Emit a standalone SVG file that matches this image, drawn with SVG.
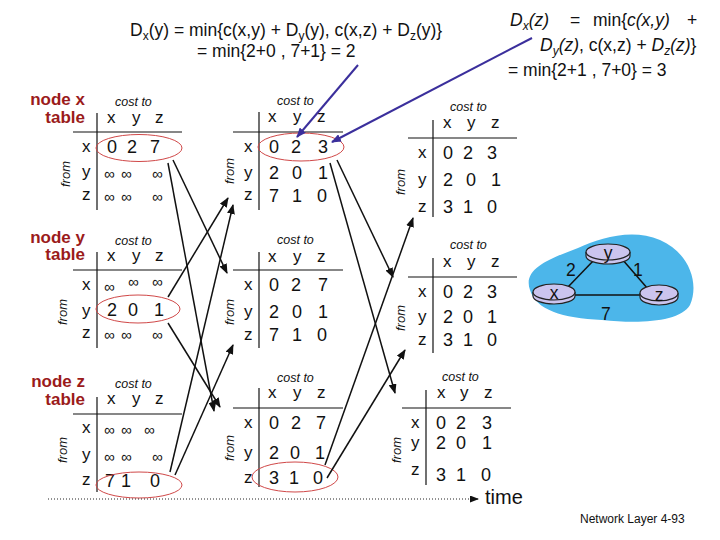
<svg xmlns="http://www.w3.org/2000/svg" width="720" height="540" viewBox="0 0 720 540">
<defs>
<style>
text{font-family:"Liberation Sans",Arial,sans-serif;fill:#111}
.nl{font-size:17px;font-weight:bold;fill:#9b1b1b;text-anchor:end}
.ct{font-size:12.5px;font-style:italic}
.hd{font-size:17px}
.rl{font-size:17px}
.v{font-size:18px}
.inf{font-size:15px}
.fr{font-size:13px;font-style:italic;text-anchor:middle}
.f{font-size:17.5px}
.it{font-style:italic}
.ln{stroke:#111;stroke-width:1.2;fill:none}
.ov{fill:none;stroke:#d04848;stroke-width:1}
.cn{stroke:#111;stroke-width:1.5;fill:none;marker-end:url(#ah)}
.bl{stroke:#3b2f9c;stroke-width:2;fill:none;marker-end:url(#bh)}
.rt{fill:#cbc4ee;stroke:#222;stroke-width:1.2}
.lk{stroke:#111;stroke-width:1.5}
</style>
<marker id="ah" markerWidth="10" markerHeight="8" refX="9" refY="4" orient="auto" markerUnits="userSpaceOnUse"><path d="M0,0 L10,4 L0,8 Z" fill="#111"/></marker>
<marker id="bh" markerWidth="10" markerHeight="8" refX="9" refY="4" orient="auto" markerUnits="userSpaceOnUse"><path d="M0,0 L10,4 L0,8 Z" fill="#3b2f9c"/></marker>
<marker id="th" markerWidth="9" markerHeight="7" refX="8" refY="3.5" orient="auto" markerUnits="userSpaceOnUse"><path d="M0,0 L9,3.5 L0,7 Z" fill="#111"/></marker>
</defs>

<!-- formulas -->
<g id="formula-left">
<text class="f" x="130" y="36">D<tspan font-size="12" dy="4">x</tspan><tspan dy="-4">(y) = min{c(x,y) + D</tspan><tspan font-size="12" dy="4">y</tspan><tspan dy="-4">(y), c(x,z) + D</tspan><tspan font-size="12" dy="4">z</tspan><tspan dy="-4">(y)}</tspan></text>
<text class="f" x="197" y="57">= min{2+0 , 7+1} = 2</text>
</g>
<g id="formula-right">
<text class="f it" x="510" y="26">D<tspan font-size="12" dy="4">x</tspan><tspan dy="-4">(z)</tspan></text>
<text class="f" x="570" y="26">=</text>
<text class="f" x="593" y="26">min{<tspan class="it">c(x,y)</tspan></text>
<text class="f" x="687" y="26">+</text>
<text class="f" x="540" y="51"><tspan class="it">D</tspan><tspan class="it" font-size="12" dy="4">y</tspan><tspan class="it" dy="-4">(z)</tspan>, c(x,z) + <tspan class="it">D</tspan><tspan class="it" font-size="12" dy="4">z</tspan><tspan class="it" dy="-4">(z)</tspan>}</text>
<text class="f" x="508" y="76">= min{2+1 , 7+0} = 3</text>
</g>

<!-- column 1 -->
<g id="t1x">
<text class="nl" x="85" y="105">node x</text><text class="nl" x="85" y="123">table</text>
<text class="ct" x="115" y="106">cost to</text>
<text class="hd" x="107" y="123">x</text><text class="hd" x="132" y="123">y</text><text class="hd" x="155" y="123">z</text>
<line class="ln" x1="73" y1="132" x2="182" y2="132"/><line class="ln" x1="97" y1="113" x2="97" y2="210"/>
<text class="rl" x="82" y="152">x</text><text class="rl" x="82" y="177">y</text><text class="rl" x="82" y="200">z</text>
<text class="fr" transform="translate(70,174) rotate(-90)">from</text>
<text class="v" x="107" y="153">0</text><text class="v" x="127" y="153">2</text><text class="v" x="150" y="153">7</text>
<text class="inf" x="104" y="179">∞</text><text class="inf" x="121" y="179">∞</text><text class="inf" x="152" y="179">∞</text>
<text class="inf" x="104" y="202">∞</text><text class="inf" x="121" y="202">∞</text><text class="inf" x="152" y="202">∞</text>
<ellipse class="ov" cx="139" cy="148" rx="43" ry="13.5"/>
</g>
<g id="t1y">
<text class="nl" x="85" y="243">node y</text><text class="nl" x="85" y="260">table</text>
<text class="ct" x="115" y="245">cost to</text>
<text class="hd" x="107" y="261">x</text><text class="hd" x="132" y="261">y</text><text class="hd" x="155" y="261">z</text>
<line class="ln" x1="73" y1="270" x2="182" y2="270"/><line class="ln" x1="97" y1="252" x2="97" y2="348"/>
<text class="rl" x="82" y="290">x</text><text class="rl" x="82" y="316">y</text><text class="rl" x="82" y="338">z</text>
<text class="fr" transform="translate(67,312) rotate(-90)">from</text>
<text class="inf" x="104" y="292">∞</text><text class="inf" x="128" y="287">∞</text><text class="inf" x="152" y="287">∞</text>
<text class="v" x="107" y="316">2</text><text class="v" x="128" y="316">0</text><text class="v" x="154" y="316">1</text>
<text class="inf" x="104" y="340">∞</text><text class="inf" x="121" y="340">∞</text><text class="inf" x="152" y="340">∞</text>
<ellipse class="ov" cx="138" cy="309" rx="42" ry="14"/>
</g>
<g id="t1z">
<text class="nl" x="85" y="387">node z</text><text class="nl" x="85" y="405">table</text>
<text class="ct" x="115" y="388">cost to</text>
<text class="hd" x="107" y="404">x</text><text class="hd" x="132" y="404">y</text><text class="hd" x="155" y="404">z</text>
<line class="ln" x1="73" y1="414" x2="182" y2="414"/><line class="ln" x1="97" y1="397" x2="97" y2="492"/>
<text class="rl" x="82" y="433">x</text><text class="rl" x="82" y="460">y</text><text class="rl" x="82" y="485">z</text>
<text class="fr" transform="translate(67,450) rotate(-90)">from</text>
<text class="inf" x="104" y="435">∞</text><text class="inf" x="121" y="435">∞</text><text class="inf" x="144" y="435">∞</text>
<text class="inf" x="104" y="462">∞</text><text class="inf" x="121" y="462">∞</text><text class="inf" x="152" y="462">∞</text>
<text class="v" x="105" y="487">7</text><text class="v" x="121" y="487">1</text><text class="v" x="150" y="487">0</text>
<ellipse class="ov" cx="139" cy="485" rx="43" ry="13"/>
</g>

<!-- column 2 -->
<g id="t2x">
<text class="ct" x="277" y="105">cost to</text>
<text class="hd" x="268" y="122">x</text><text class="hd" x="293" y="122">y</text><text class="hd" x="317" y="122">z</text>
<line class="ln" x1="233" y1="132" x2="343" y2="132"/><line class="ln" x1="259" y1="112" x2="259" y2="210"/>
<text class="rl" x="244" y="152">x</text><text class="rl" x="244" y="178">y</text><text class="rl" x="244" y="200">z</text>
<text class="fr" transform="translate(234,171) rotate(-90)">from</text>
<text class="v" x="269" y="153">0</text><text class="v" x="291" y="153">2</text><text class="v" x="318" y="153">3</text>
<text class="v" x="269" y="179">2</text><text class="v" x="292" y="179">0</text><text class="v" x="318" y="179">1</text>
<text class="v" x="269" y="202">7</text><text class="v" x="292" y="202">1</text><text class="v" x="317" y="202">0</text>
<ellipse class="ov" cx="301" cy="147" rx="43" ry="14"/>
</g>
<g id="t2y">
<text class="ct" x="277" y="244">cost to</text>
<text class="hd" x="268" y="262">x</text><text class="hd" x="293" y="262">y</text><text class="hd" x="317" y="262">z</text>
<line class="ln" x1="233" y1="270" x2="343" y2="270"/><line class="ln" x1="259" y1="252" x2="259" y2="348"/>
<text class="rl" x="244" y="290">x</text><text class="rl" x="244" y="317">y</text><text class="rl" x="244" y="340">z</text>
<text class="fr" transform="translate(234,312) rotate(-90)">from</text>
<text class="v" x="269" y="291">0</text><text class="v" x="291" y="291">2</text><text class="v" x="318" y="291">7</text>
<text class="v" x="269" y="318">2</text><text class="v" x="292" y="318">0</text><text class="v" x="318" y="318">1</text>
<text class="v" x="269" y="341">7</text><text class="v" x="292" y="341">1</text><text class="v" x="317" y="341">0</text>
</g>
<g id="t2z">
<text class="ct" x="277" y="382">cost to</text>
<text class="hd" x="268" y="398">x</text><text class="hd" x="293" y="398">y</text><text class="hd" x="317" y="398">z</text>
<line class="ln" x1="233" y1="408" x2="343" y2="408"/><line class="ln" x1="259" y1="388" x2="259" y2="487"/>
<text class="rl" x="244" y="428">x</text><text class="rl" x="244" y="458">y</text><text class="rl" x="244" y="483">z</text>
<text class="fr" transform="translate(234,448) rotate(-90)">from</text>
<text class="v" x="269" y="429">0</text><text class="v" x="291" y="429">2</text><text class="v" x="316" y="429">7</text>
<text class="v" x="269" y="459">2</text><text class="v" x="290" y="459">0</text><text class="v" x="315" y="459">1</text>
<text class="v" x="269" y="484">3</text><text class="v" x="289" y="484">1</text><text class="v" x="313" y="484">0</text>
<ellipse class="ov" cx="295" cy="477" rx="43" ry="15"/>
</g>

<!-- column 3 -->
<g id="t3x">
<text class="ct" x="450" y="111">cost to</text>
<text class="hd" x="443" y="128">x</text><text class="hd" x="467" y="128">y</text><text class="hd" x="491" y="128">z</text>
<line class="ln" x1="408" y1="138" x2="517" y2="138"/><line class="ln" x1="433" y1="120" x2="433" y2="217"/>
<text class="rl" x="418" y="158">x</text><text class="rl" x="418" y="185">y</text><text class="rl" x="418" y="212">z</text>
<text class="fr" transform="translate(405,182) rotate(-90)">from</text>
<text class="v" x="443" y="159">0</text><text class="v" x="463" y="159">2</text><text class="v" x="487" y="159">3</text>
<text class="v" x="443" y="186">2</text><text class="v" x="466" y="186">0</text><text class="v" x="491" y="186">1</text>
<text class="v" x="443" y="213">3</text><text class="v" x="463" y="213">1</text><text class="v" x="487" y="213">0</text>
</g>
<g id="t3y">
<text class="ct" x="450" y="249">cost to</text>
<text class="hd" x="443" y="267">x</text><text class="hd" x="467" y="267">y</text><text class="hd" x="491" y="267">z</text>
<line class="ln" x1="408" y1="277" x2="517" y2="277"/><line class="ln" x1="433" y1="258" x2="433" y2="353"/>
<text class="rl" x="418" y="297">x</text><text class="rl" x="418" y="322">y</text><text class="rl" x="418" y="345">z</text>
<text class="fr" transform="translate(405,318) rotate(-90)">from</text>
<text class="v" x="443" y="298">0</text><text class="v" x="463" y="298">2</text><text class="v" x="487" y="298">3</text>
<text class="v" x="443" y="323">2</text><text class="v" x="463" y="323">0</text><text class="v" x="487" y="323">1</text>
<text class="v" x="443" y="346">3</text><text class="v" x="463" y="346">1</text><text class="v" x="487" y="346">0</text>
</g>
<g id="t3z">
<text class="ct" x="442" y="381">cost to</text>
<text class="hd" x="437" y="398">x</text><text class="hd" x="460" y="398">y</text><text class="hd" x="484" y="398">z</text>
<line class="ln" x1="402" y1="408" x2="511" y2="408"/><line class="ln" x1="426" y1="390" x2="426" y2="485"/>
<text class="rl" x="411" y="428">x</text><text class="rl" x="411" y="448">y</text><text class="rl" x="411" y="475">z</text>
<text class="fr" transform="translate(401,450) rotate(-90)">from</text>
<text class="v" x="436" y="429">0</text><text class="v" x="456" y="429">2</text><text class="v" x="482" y="429">3</text>
<text class="v" x="436" y="449">2</text><text class="v" x="456" y="449">0</text><text class="v" x="482" y="449">1</text>
<text class="v" x="436" y="481">3</text><text class="v" x="456" y="481">1</text><text class="v" x="481" y="481">0</text>
</g>

<!-- network graph -->
<g id="network">
<path d="M530,290 C522,268 552,258 578,248 C600,238 632,228 660,240 C688,252 700,282 690,305 C680,322 640,324 602,320 C562,318 536,310 530,290 Z" fill="#4cb6ea"/>
<line class="lk" x1="567" y1="288" x2="595" y2="259"/>
<line class="lk" x1="622" y1="259" x2="648" y2="289"/>
<line class="lk" x1="575" y1="295" x2="640" y2="295"/>
<text class="f" x="566" y="276">2</text>
<text class="f" x="633" y="276">1</text>
<text class="f" x="601" y="320">7</text>
</g>
<g id="router-y">
<path class="rt" d="M586,252 v4 a22,8 0 0 0 44,0 v-4"/><ellipse class="rt" cx="608" cy="252" rx="22" ry="8"/>
<text class="f" x="608" y="259" text-anchor="middle">y</text>
</g>
<g id="router-x">
<path class="rt" d="M533,292 v4 a21,8 0 0 0 42,0 v-4"/><ellipse class="rt" cx="554" cy="292" rx="21" ry="8"/>
<text class="f" x="554" y="299" text-anchor="middle">x</text>
</g>
<g id="router-z">
<path class="rt" d="M640,293 v4 a19,8 0 0 0 38,0 v-4"/><ellipse class="rt" cx="659" cy="293" rx="19" ry="8"/>
<text class="f" x="659" y="301" text-anchor="middle" font-size="20">z</text>
</g>

<!-- connectors -->
<g id="connectors">
<line class="cn" x1="173" y1="160" x2="227" y2="273"/>
<line class="cn" x1="168" y1="163" x2="214" y2="411"/>
<line class="cn" x1="168" y1="297" x2="228" y2="198"/>
<line class="cn" x1="168" y1="323" x2="220" y2="407"/>
<line class="cn" x1="170" y1="472" x2="233" y2="205"/>
<line class="cn" x1="175" y1="475" x2="233" y2="345"/>
<line class="cn" x1="337" y1="160" x2="393" y2="277"/>
<line class="cn" x1="330" y1="163" x2="395" y2="393"/>
<line class="cn" x1="325" y1="465" x2="413" y2="218"/>
<line class="cn" x1="327" y1="478" x2="405" y2="350"/>
<line class="bl" x1="358" y1="65" x2="297" y2="137"/>
<line class="bl" x1="532" y1="38" x2="332" y2="142"/>
</g>

<g id="time-axis">
<line x1="48" y1="499" x2="478" y2="499" stroke="#222" stroke-width="1" stroke-dasharray="1,2" marker-end="url(#th)"/>
<text x="485" y="504" font-size="20">time</text>
</g>
<text x="580" y="523" font-size="12">Network Layer  4-93</text>
</svg>
